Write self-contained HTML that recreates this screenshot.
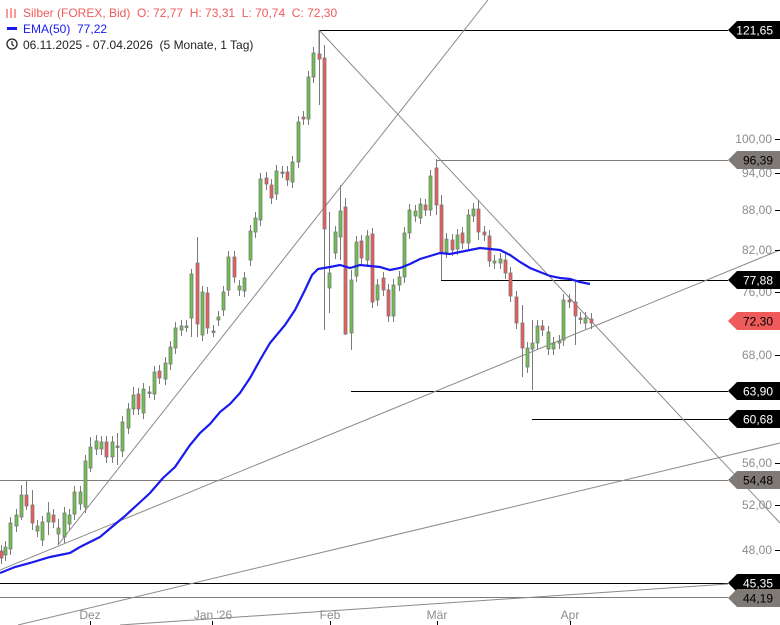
<!DOCTYPE html>
<html><head><meta charset="utf-8"><style>
html,body{margin:0;padding:0;background:#fff;}
svg{display:block;font-family:"Liberation Sans",sans-serif;}
.pre{white-space:pre;}
</style></head><body>
<svg id="c" width="780" height="625" viewBox="0 0 780 625" xmlns="http://www.w3.org/2000/svg">
<g id="lines" stroke-width="1" fill="none">
<line x1="319" y1="30.5" x2="728" y2="30.5" stroke="#000"/>
<line x1="436" y1="160.5" x2="728" y2="160.5" stroke="#7f7a76"/>
<line x1="441" y1="280.5" x2="728" y2="280.5" stroke="#000"/>
<line x1="351" y1="391.5" x2="728" y2="391.5" stroke="#000"/>
<line x1="532" y1="419.5" x2="728" y2="419.5" stroke="#000"/>
<line x1="0" y1="480.5" x2="728" y2="480.5" stroke="#7f7a76"/>
<line x1="0" y1="583.5" x2="728" y2="583.5" stroke="#000"/>
<line x1="0" y1="597.5" x2="728" y2="597.5" stroke="#7f7a76"/>
<line x1="58" y1="545" x2="488" y2="0" stroke="#8a8a8a"/>
<line x1="0" y1="570" x2="780" y2="250" stroke="#8a8a8a"/>
<line x1="319" y1="30" x2="780" y2="523" stroke="#8a8a8a"/>
<line x1="18" y1="625" x2="780" y2="443" stroke="#8a8a8a"/>
<line x1="120" y1="625" x2="728" y2="584" stroke="#8a8a8a"/>
<line x1="319" y1="30" x2="319" y2="60" stroke="#7a7a7a"/>
</g>
<g id="candles"></g>
<polyline fill="none" stroke="#1a1aee" stroke-width="2.2" points="0,573 15,567 30,563 50,557 70,553 80,547 100,537 113,526 125,516 137,505 150,493 163,478 175,467 190,445 200,433 210,424 220,412 230,404 240,393 250,378 260,360 270,343 285,325 295,310 305,290 312,275 318,269 330,267 340,265 350,268 360,265 370,266 380,267 390,270 400,268 410,264 420,259 430,256 440,253 450,254 460,252 470,250 480,248 490,249 500,250 510,255 520,262 530,268 540,272 550,276 560,278 570,279 580,282 590,284"/>
<g font-size="12" fill="#8c8c8c" text-anchor="end">
<text x="772" y="143">100,00</text><text x="772" y="177">94,00</text><text x="772" y="214">88,00</text>
<text x="772" y="254">82,00</text><text x="772" y="296">76,00</text><text x="772" y="359">68,00</text>
<text x="772" y="467">56,00</text><text x="772" y="509">52,00</text><text x="772" y="554">48,00</text>
</g>
<g stroke="#000"><line x1="775" y1="139.5" x2="780" y2="139.5"/><line x1="775" y1="173.5" x2="780" y2="173.5"/><line x1="775" y1="210.5" x2="780" y2="210.5"/><line x1="775" y1="250.5" x2="780" y2="250.5"/><line x1="775" y1="292.5" x2="780" y2="292.5"/><line x1="775" y1="355.5" x2="780" y2="355.5"/><line x1="775" y1="463.5" x2="780" y2="463.5"/><line x1="775" y1="505.5" x2="780" y2="505.5"/><line x1="775" y1="550.5" x2="780" y2="550.5"/></g>
<g id="badges" font-size="12" text-anchor="end"></g>
<g font-size="12" fill="#8c8c8c" text-anchor="middle">
<text x="90" y="619">Dez</text><text x="213" y="619">Jan '26</text><text x="330" y="619">Feb</text><text x="437" y="619">Mär</text><text x="570" y="619">Apr</text>
</g>
<g stroke="#000"><line x1="90.5" y1="621" x2="90.5" y2="625"/><line x1="212.5" y1="621" x2="212.5" y2="625"/><line x1="330.5" y1="621" x2="330.5" y2="625"/><line x1="437.5" y1="621" x2="437.5" y2="625"/><line x1="570.5" y1="621" x2="570.5" y2="625"/></g>
<g font-size="12">
<g stroke="#ef5a5a" stroke-width="1.2"><line x1="7" y1="9" x2="7" y2="18"/><line x1="11" y1="8" x2="11" y2="18"/><line x1="15" y1="9" x2="15" y2="18"/></g>
<text x="23" y="17" fill="#ef5a5a" class="pre">Silber (FOREX, Bid)  O: 72,77  H: 73,31  L: 70,74  C: 72,30</text>
<rect x="7" y="27" width="10" height="3" fill="#1a1aee"/>
<text x="23" y="33" fill="#1a1aee" class="pre">EMA(50)  77,22</text>
<circle cx="12" cy="44" r="5" fill="none" stroke="#222" stroke-width="1.3"/><path d="M12 41v3.5l2 1.5" stroke="#222" fill="none" stroke-width="1.2"/>
<text x="23" y="49" fill="#222" class="pre">06.11.2025 - 07.04.2026  (5 Monate, 1 Tag)</text>
</g>
</svg>
<script>
const C=[[1,551,558],[5,555,547],[10,549,523],[16,526,515],[21,517,495,485,520],[26,495,506,480,510],[32,505,523,490,530],[37,531,526],[42,540,522],[48,522,513,502,535],[53,515,522],[58,534,528,519,545],[64,537,513],[69,524,515],[74,514,492],[80,504,492],[85,507,461],[90,468,447,437,472],[96,449,441],[101,449,442],[106,442,457],[112,457,442],[117,446,446,433,465],[122,451,422],[128,428,409],[133,409,395,387,415],[138,394,409],[143,413,389],[149,392,392],[154,394,372],[159,371,378],[165,379,363],[170,364,347],[175,348,328],[181,330,326],[186,326,326],[191,318,274,269,337],[197,263,324,237,337],[202,335,292],[207,293,328],[213,331,331],[218,320,317],[223,310,292],[228,290,257],[234,257,277],[239,290,286],[244,291,278],[250,260,231],[255,232,218],[260,220,179],[266,178,184],[271,185,198],[276,194,171],[282,172,172],[287,172,180],[292,182,162],[298,162,122],[303,117,119],[308,119,77],[313,77,53],[319,54,59,30,105],[324,58,229,45,330],[329,288,273,212,313],[335,253,232],[340,237,211,185,260],[345,207,334,198,335],[351,333,280,270,350],[356,276,242],[361,241,258],[367,260,236],[372,234,302],[377,300,285],[383,278,290],[388,290,316],[393,316,285],[399,285,277],[404,277,233],[409,233,210],[415,216,211],[420,218,204],[425,205,210],[430,210,176],[436,168,205,159,215],[441,205,252,195,280],[446,252,239],[452,240,250],[457,249,235],[462,233,243],[468,243,215],[473,216,209],[478,209,232,200,240],[484,232,235],[489,236,261],[494,263,261],[500,263,259],[505,260,273],[510,273,296],[516,297,323],[522,323,348,305,377],[527,367,348],[532,349,343,320,390],[537,343,326],[542,326,330],[548,349,332],[553,349,343],[559,343,341],[563,340,300],[569,300,302],[575,302,316,282,345],[580,318,318],[585,323,318],[591,319,323]];
let s='';
for(const d of C){let[x,o,c,h,l]=d;const t=Math.min(o,c),b=Math.max(o,c);if(h===undefined){h=t-6;l=b+6;}
const col=c<o?'#6cc24a':(c>o?'#ef5a5a':'#888');
s+=`<line x1="${x+.5}" y1="${h}" x2="${x+.5}" y2="${l}" stroke="#7a7a7a"/>`;
const hh=Math.max(b-t,1.5);
s+=`<rect x="${x-1}" y="${t}" width="3" height="${hh}" fill="${col}" stroke="#7a7a7a" stroke-width="0.8"/>`;}
document.getElementById('candles').innerHTML=s;
const B=[[30,'121,65','#000','#fff'],[160,'96,39','#7f7a76','#000'],[280,'77,88','#000','#fff'],[321,'72,30','#ef5a5a','#000'],[391,'63,90','#000','#fff'],[419,'60,68','#000','#fff'],[480,'54,48','#7f7a76','#000'],[583,'45,35','#000','#fff'],[598,'44,19','#7f7a76','#000']];
let bs='';
for(const[y,t,bg,fg]of B){bs+=`<path d="M728 ${y} L737 ${y-9} H780 V${y+9} H737 Z" fill="${bg}"/><text x="773" y="${y+4.5}" fill="${fg}">${t}</text>`;}
document.getElementById('badges').innerHTML=bs;
</script>
</body></html>
